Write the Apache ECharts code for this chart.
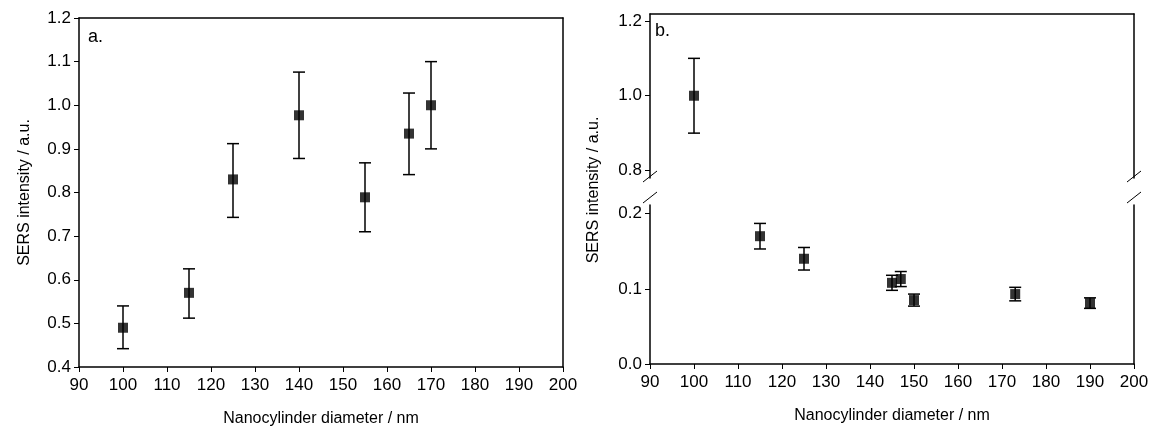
<!DOCTYPE html>
<html lang="en" style="height:100%">
<head>
    <meta charset="UTF-8">
    <title>SERS intensity</title>
</head>
<body style="height: 100%; margin: 0; background:#fff">
<div id="container" style="width:1156px;height:436px"></div>
<script src="https://cdn.jsdelivr.net/npm/echarts@6/dist/echarts.min.js"></script>
<script type="text/javascript">
    // panel a
    var diamA = [100, 115, 125, 140, 155, 165, 170];
    var sersA = [0.49, 0.57, 0.83, 0.977, 0.789, 0.935, 1.0];
    var lowA  = [0.442, 0.512, 0.743, 0.878, 0.71, 0.841, 0.9];
    var highA = [0.54, 0.625, 0.912, 1.076, 0.868, 1.028, 1.1];
    // panel b
    var diamB = [100, 115, 125, 145, 147, 150, 173, 190];
    var sersB = [1.0, 0.170, 0.140, 0.108, 0.113, 0.085, 0.093, 0.081];
    var lowB  = [0.9, 0.153, 0.125, 0.098, 0.103, 0.077, 0.084, 0.074];
    var highB = [1.1, 0.187, 0.155, 0.118, 0.123, 0.093, 0.102, 0.088];
    var xTicks = [90, 200, 10];
    var upperTicks = [0.8, 1.0, 1.2];
    var lowerTicks = [0.0, 0.1, 0.2];

    var font = 'Liberation Sans, Arial, sans-serif';
    var myChart = echarts.init(document.getElementById('container'));

    function pts(xs, ys) {
        return xs.map(function (x, i) { return [x, ys[i]]; });
    }
    function bars(xs, lo, hi) {
        return xs.map(function (x, i) { return [x, lo[i], hi[i]]; });
    }
    function errRender(params, api) {
        var x = api.value(0);
        var p1 = api.coord([x, api.value(1)]);
        var p2 = api.coord([x, api.value(2)]);
        var st = {stroke: '#000', lineWidth: 1.5};
        var c = 6;
        return {
            type: 'group',
            children: [
                {type: 'line', shape: {x1: p1[0], y1: p1[1], x2: p2[0], y2: p2[1]}, style: st},
                {type: 'line', shape: {x1: p1[0] - c, y1: p1[1], x2: p1[0] + c, y2: p1[1]}, style: st},
                {type: 'line', shape: {x1: p2[0] - c, y1: p2[1], x2: p2[0] + c, y2: p2[1]}, style: st}
            ]
        };
    }
    var lineSt = {show: true, onZero: false, lineStyle: {color: '#000', width: 1.5}};
    var lbl = {color: '#000', fontSize: 17, fontFamily: font};
    var nameSt = {color: '#000', fontSize: 16, fontFamily: font};
    function xAx(idx, pos, labels) {
        return {
            type: 'value', gridIndex: idx, position: pos,
            min: xTicks[0], max: xTicks[1], interval: xTicks[2],
            axisLine: lineSt, splitLine: {show: false},
            axisTick: {show: labels, length: 5, lineStyle: {color: '#000'}},
            axisLabel: Object.assign({show: labels, margin: 10}, lbl),
            name: labels ? 'Nanocylinder diameter / nm' : '',
            nameLocation: 'middle', nameGap: 44, nameTextStyle: nameSt
        };
    }
    function yAx(idx, min, max, ticks, name) {
        var o = {
            type: 'value', gridIndex: idx, position: 'left',
            min: min, max: max,
            axisLine: lineSt, splitLine: {show: false},
            axisTick: {show: true, length: 5, lineStyle: {color: '#000'}},
            axisLabel: Object.assign({margin: 8, formatter: function (v) { return v.toFixed(1); }}, lbl),
            name: name || '', nameLocation: 'middle', nameGap: 46, nameTextStyle: nameSt
        };
        if (Array.isArray(ticks)) {
            o.axisTick.customValues = ticks;
            o.axisLabel.customValues = ticks;
        } else {
            o.interval = ticks;
        }
        return o;
    }
    function yRight(idx) {
        return {type: 'value', gridIndex: idx, position: 'right', axisLine: lineSt,
            axisTick: {show: false}, axisLabel: {show: false}, splitLine: {show: false}};
    }

    var option = {
        animation: false,
        backgroundColor: '#fff',
        grid: [
            {left: 79, right: 593, top: 18, bottom: 69},
            {left: 650, right: 22, top: 14, height: 164},
            {left: 650, right: 22, top: 205, bottom: 72}
        ],
        xAxis: [
            xAx(0, 'bottom', true), xAx(0, 'top', false),
            xAx(1, 'top', false),
            xAx(2, 'bottom', true)
        ],
        yAxis: [
            yAx(0, 0.4, 1.2, 0.1, 'SERS intensity / a.u.'), yRight(0),
            yAx(1, 0.78, 1.2186, upperTicks), yRight(1),
            yAx(2, 0, 0.2115, lowerTicks), yRight(2)
        ],
        series: [
            {type: 'custom', xAxisIndex: 0, yAxisIndex: 0, renderItem: errRender, data: bars(diamA, lowA, highA), z: 2},
            {type: 'scatter', xAxisIndex: 0, yAxisIndex: 0, symbol: 'rect', symbolSize: 10,
                itemStyle: {color: '#000'}, data: pts(diamA, sersA), z: 3},
            {type: 'custom', xAxisIndex: 2, yAxisIndex: 2, renderItem: errRender, data: bars(diamB.slice(0, 1), lowB.slice(0, 1), highB.slice(0, 1)), z: 2},
            {type: 'scatter', xAxisIndex: 2, yAxisIndex: 2, symbol: 'rect', symbolSize: 10,
                itemStyle: {color: '#000'}, data: pts(diamB.slice(0, 1), sersB.slice(0, 1)), z: 3},
            {type: 'custom', xAxisIndex: 3, yAxisIndex: 4, renderItem: errRender, data: bars(diamB.slice(1), lowB.slice(1), highB.slice(1)), z: 2},
            {type: 'scatter', xAxisIndex: 3, yAxisIndex: 4, symbol: 'rect', symbolSize: 10,
                itemStyle: {color: '#000'}, data: pts(diamB.slice(1), sersB.slice(1)), z: 3}
        ],
        graphic: [
            {type: 'text', left: 88, top: 28, style: {text: 'a.', fill: '#000', font: '18px ' + font}},
            {type: 'text', left: 655, top: 22, style: {text: 'b.', fill: '#000', font: '18px ' + font}},
            {type: 'text', x: 594, y: 190, rotation: Math.PI / 2,
                style: {text: 'SERS intensity / a.u.', fill: '#000', font: '16px ' + font, align: 'center', verticalAlign: 'middle'}},
            // axis break marks
            {type: 'line', shape: {x1: 643, y1: 182, x2: 657, y2: 171}, style: {stroke: '#000', lineWidth: 1}},
            {type: 'line', shape: {x1: 643, y1: 203, x2: 657, y2: 192}, style: {stroke: '#000', lineWidth: 1}},
            {type: 'line', shape: {x1: 1127, y1: 182, x2: 1141, y2: 171}, style: {stroke: '#000', lineWidth: 1}},
            {type: 'line', shape: {x1: 1127, y1: 203, x2: 1141, y2: 192}, style: {stroke: '#000', lineWidth: 1}}
        ]
    };
    myChart.setOption(option);
</script>
</body>
</html>
